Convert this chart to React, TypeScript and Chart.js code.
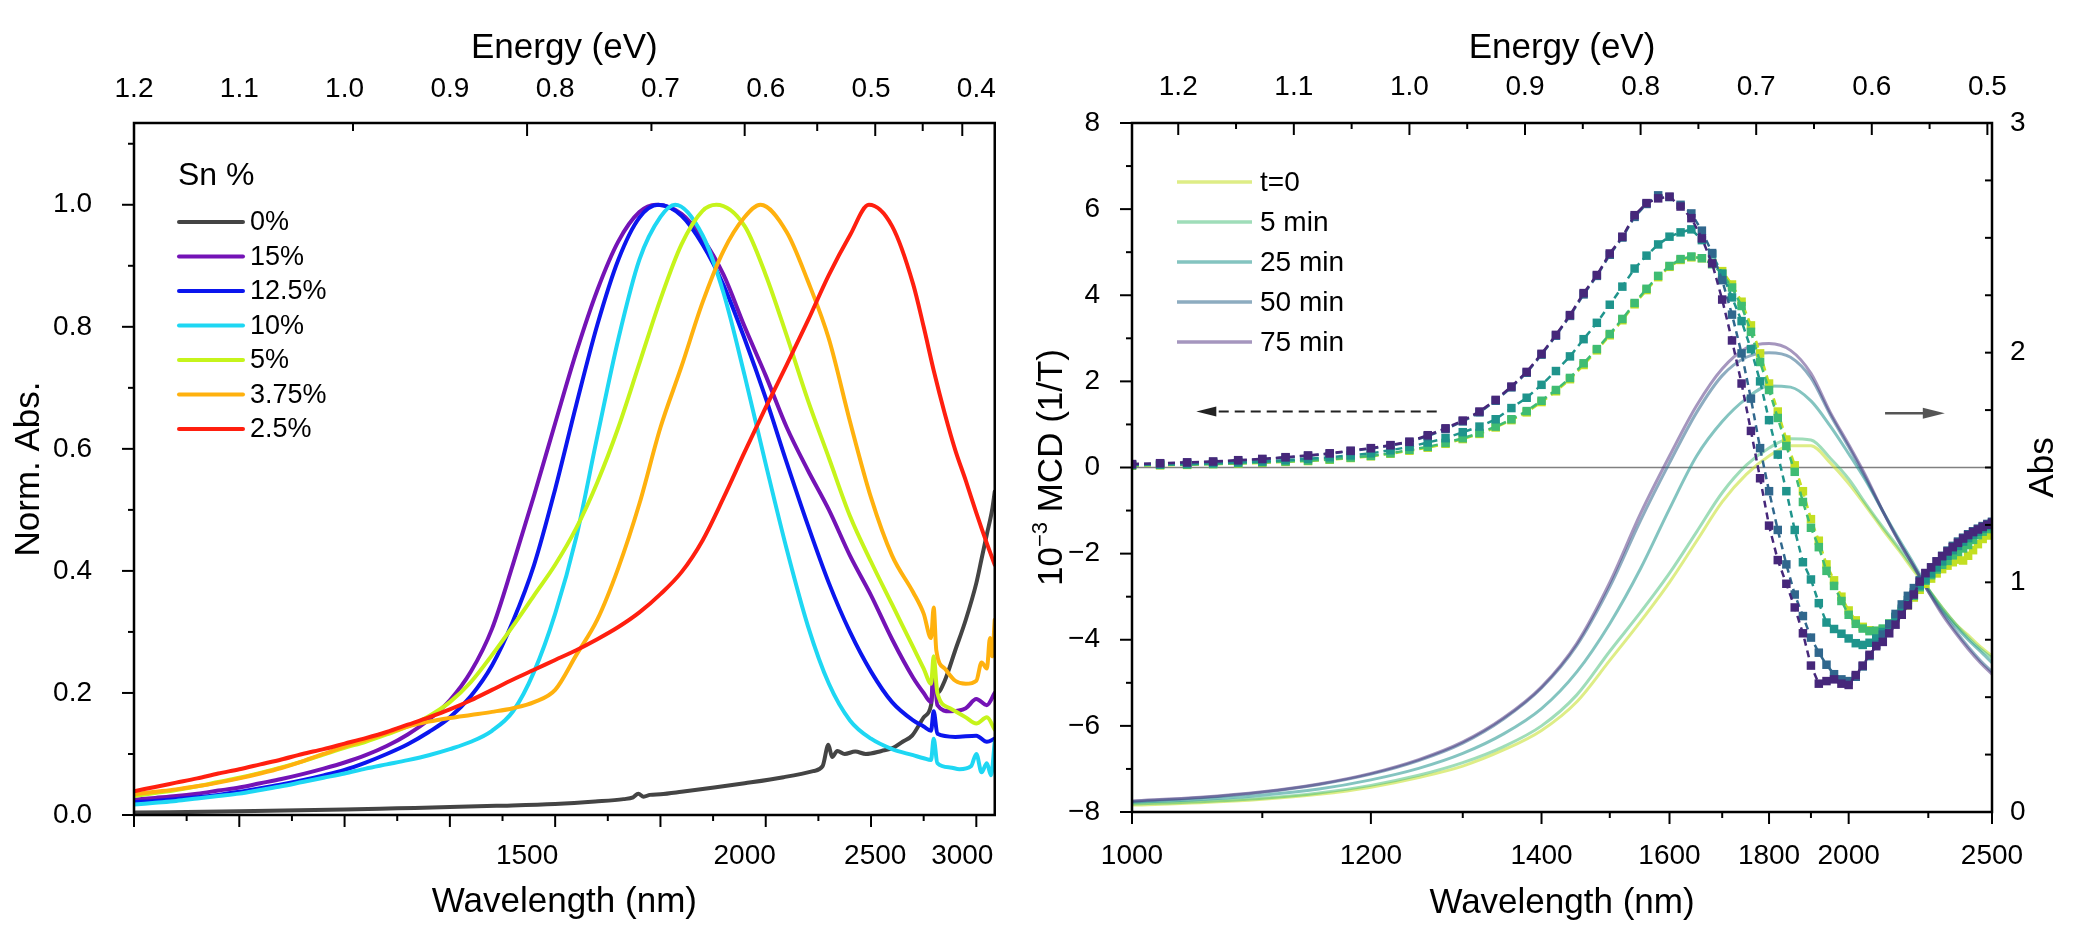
import React, { useEffect, useRef } from "react";
import { Chart, registerables } from "chart.js";

Chart.register(...registerables);

const FONT = "'Liberation Sans', Arial, Helvetica, sans-serif";
const HC = 1240; // eV·nm, converts wavelength to photon energy

// ======================= LEFT PANEL DATA (energy eV -> normalized absorbance) =======================
const SN_LABELS = ["0%", "15%", "12.5%", "10%", "5%", "3.75%", "2.5%"];
const SN_COLORS = ["#444444", "#7413B6", "#0B16EE", "#1ED7F3", "#C6F41B", "#FFB10E", "#FF1F0F"];

const E_SN0 = [1.2, 1.1, 1.0, 0.95, 0.9, 0.856, 0.8, 0.762, 0.735, 0.726, 0.721, 0.716, 0.71, 0.7, 0.68, 0.649, 0.62, 0.583, 0.555, 0.546, 0.5405, 0.537, 0.532, 0.525, 0.515, 0.505, 0.49, 0.479, 0.47, 0.461, 0.45, 0.443, 0.4405, 0.437, 0.43, 0.42, 0.41, 0.4, 0.395, 0.39, 0.385, 0.3825];
const V_SN0 = [0.004, 0.006, 0.009, 0.011, 0.013, 0.015, 0.018, 0.022, 0.026, 0.029, 0.035, 0.03, 0.033, 0.034, 0.038, 0.045, 0.052, 0.062, 0.072, 0.08, 0.115, 0.095, 0.105, 0.1, 0.104, 0.1, 0.105, 0.11, 0.12, 0.13, 0.16, 0.18, 0.22, 0.2, 0.22, 0.27, 0.32, 0.38, 0.42, 0.46, 0.5, 0.53];

const E_SN15 = [1.2, 1.18, 1.16, 1.14, 1.12, 1.1, 1.08, 1.06, 1.04, 1.02, 1.0, 0.98, 0.96, 0.94, 0.92, 0.9, 0.88, 0.86, 0.84, 0.82, 0.8, 0.78, 0.76, 0.74, 0.72, 0.704, 0.68, 0.66, 0.64, 0.62, 0.6, 0.58, 0.56, 0.54, 0.52, 0.5, 0.48, 0.46, 0.45, 0.443, 0.4405, 0.437, 0.425, 0.41, 0.4, 0.39, 0.3825];
const V_SN15 = [0.025, 0.028, 0.031, 0.035, 0.04, 0.045, 0.052, 0.059, 0.067, 0.076, 0.086, 0.098, 0.113, 0.132, 0.156, 0.188, 0.235, 0.305, 0.411, 0.524, 0.642, 0.758, 0.86, 0.94, 0.988, 1.0, 0.985, 0.945, 0.885, 0.8, 0.72, 0.635, 0.565, 0.5, 0.425, 0.36, 0.288, 0.225, 0.2, 0.185, 0.24, 0.18, 0.17, 0.175, 0.19, 0.18, 0.2];

const E_SN125 = [1.2, 1.18, 1.16, 1.14, 1.12, 1.1, 1.08, 1.06, 1.04, 1.02, 1.0, 0.98, 0.96, 0.94, 0.92, 0.9, 0.88, 0.86, 0.84, 0.82, 0.8, 0.78, 0.76, 0.74, 0.72, 0.702, 0.68, 0.66, 0.64, 0.62, 0.6, 0.58, 0.56, 0.54, 0.52, 0.5, 0.48, 0.46, 0.45, 0.443, 0.4405, 0.437, 0.42, 0.4, 0.39, 0.3825];
const V_SN125 = [0.021, 0.023, 0.026, 0.029, 0.033, 0.038, 0.044, 0.05, 0.057, 0.065, 0.074, 0.086, 0.1, 0.116, 0.136, 0.16, 0.195, 0.245, 0.318, 0.41, 0.534, 0.672, 0.803, 0.91, 0.979, 1.0, 0.982, 0.935, 0.868, 0.78, 0.683, 0.577, 0.475, 0.38, 0.3, 0.235, 0.185, 0.155, 0.145, 0.138, 0.17, 0.133, 0.128, 0.13, 0.12, 0.125];

const E_SN10 = [1.2, 1.18, 1.16, 1.14, 1.12, 1.1, 1.08, 1.06, 1.04, 1.02, 1.0, 0.98, 0.96, 0.94, 0.92, 0.9, 0.88, 0.86, 0.84, 0.82, 0.8, 0.78, 0.76, 0.74, 0.72, 0.7, 0.686, 0.66, 0.64, 0.62, 0.6, 0.58, 0.56, 0.54, 0.52, 0.5, 0.48, 0.46, 0.45, 0.443, 0.4405, 0.437, 0.425, 0.416, 0.405, 0.4, 0.395, 0.39, 0.386, 0.3825];
const V_SN10 = [0.017, 0.02, 0.023, 0.027, 0.031, 0.035, 0.041, 0.047, 0.054, 0.061, 0.068, 0.076, 0.083, 0.09, 0.098, 0.108, 0.12, 0.138, 0.17, 0.235, 0.33, 0.455, 0.62, 0.78, 0.91, 0.98, 1.0, 0.95, 0.855, 0.72, 0.575, 0.435, 0.31, 0.215, 0.155, 0.125, 0.108, 0.098, 0.093, 0.09, 0.125, 0.085, 0.078, 0.075, 0.08, 0.1, 0.07, 0.085, 0.065, 0.12];

const E_SN5 = [1.2, 1.18, 1.16, 1.14, 1.12, 1.1, 1.08, 1.06, 1.04, 1.02, 1.0, 0.98, 0.96, 0.94, 0.92, 0.9, 0.88, 0.86, 0.84, 0.82, 0.8, 0.78, 0.76, 0.74, 0.72, 0.7, 0.68, 0.66, 0.647, 0.62, 0.6, 0.58, 0.56, 0.54, 0.52, 0.5, 0.48, 0.46, 0.45, 0.443, 0.4405, 0.437, 0.425, 0.41, 0.4, 0.39, 0.3825];
const V_SN5 = [0.031, 0.036, 0.041, 0.047, 0.054, 0.061, 0.069, 0.078, 0.088, 0.099, 0.11, 0.12, 0.132, 0.145, 0.162, 0.185, 0.218, 0.262, 0.31, 0.36, 0.41, 0.47, 0.545, 0.635, 0.74, 0.845, 0.935, 0.99, 1.0, 0.965, 0.885, 0.785, 0.68, 0.585, 0.49, 0.415, 0.345, 0.275, 0.24, 0.215, 0.26, 0.2, 0.175, 0.16, 0.15, 0.16, 0.14];

const E_SN375 = [1.2, 1.18, 1.16, 1.14, 1.12, 1.1, 1.08, 1.06, 1.04, 1.02, 1.0, 0.98, 0.96, 0.94, 0.92, 0.9, 0.88, 0.86, 0.84, 0.82, 0.8, 0.78, 0.76, 0.74, 0.72, 0.7, 0.68, 0.66, 0.64, 0.62, 0.605, 0.58, 0.56, 0.54, 0.52, 0.5, 0.48, 0.46, 0.45, 0.443, 0.4405, 0.438, 0.43, 0.42, 0.41, 0.4, 0.395, 0.39, 0.387, 0.385, 0.3825];
const V_SN375 = [0.034, 0.038, 0.042, 0.047, 0.053, 0.06, 0.068, 0.077, 0.088, 0.1, 0.112, 0.123, 0.134, 0.145, 0.153, 0.159, 0.164, 0.169, 0.175, 0.185, 0.205, 0.262, 0.32, 0.405, 0.51, 0.635, 0.735, 0.84, 0.925, 0.98, 1.0, 0.955, 0.875, 0.78, 0.645, 0.52, 0.425, 0.365, 0.33, 0.29, 0.34, 0.27, 0.24, 0.22, 0.215, 0.22, 0.25, 0.24, 0.29, 0.26, 0.32];

const E_SN25 = [1.2, 1.18, 1.16, 1.14, 1.12, 1.1, 1.08, 1.06, 1.04, 1.02, 1.0, 0.98, 0.96, 0.94, 0.92, 0.9, 0.88, 0.86, 0.84, 0.82, 0.8, 0.78, 0.76, 0.74, 0.72, 0.7, 0.68, 0.66, 0.64, 0.62, 0.6, 0.58, 0.56, 0.54, 0.52, 0.502, 0.48, 0.46, 0.45, 0.44, 0.43, 0.42, 0.41, 0.4, 0.39, 0.3825];
const V_SN25 = [0.039, 0.046, 0.053, 0.06, 0.068, 0.075, 0.083, 0.091, 0.1, 0.108, 0.117, 0.126, 0.136, 0.148, 0.16, 0.173, 0.188, 0.205, 0.222, 0.238, 0.254, 0.27, 0.288, 0.308, 0.332, 0.362, 0.398, 0.45, 0.52, 0.595, 0.668, 0.738, 0.81, 0.885, 0.95, 1.0, 0.965, 0.87, 0.8, 0.725, 0.658, 0.598, 0.548, 0.495, 0.445, 0.41];

const LEFT_E_MIN = 0.3825;
const LEFT_E_MAX = 1.2;
const LEFT_Y_MAX = 1.134;
const LEFT_WL_LABELS = [1500, 2000, 2500, 3000];
const LEFT_EV_LABELS = [1.2, 1.1, 1.0, 0.9, 0.8, 0.7, 0.6, 0.5, 0.4];
const LEFT_Y_LABELS = [0, 0.2, 0.4, 0.6, 0.8, 1.0];
const LEFT_Y_MINOR = [0.1, 0.3, 0.5, 0.7, 0.9, 1.1];
const LEFT_BOTTOM_MAJOR_E = [1.2, 1.1, 1.0, 0.9, 0.8, 0.7, 0.6, 0.5, 0.4];
const LEFT_BOTTOM_MINOR_E = [1.15, 1.05, 0.95, 0.85, 0.75, 0.65, 0.55, 0.45];
const LEFT_TOP_MAJOR_NM = [1500, 2000, 2500, 3000];
const LEFT_TOP_MINOR_NM = [1250, 1750, 2250, 2750];

// ======================= RIGHT PANEL DATA =======================
const TIME_LABELS = ["t=0", "5 min", "25 min", "50 min", "75 min"];
const MCD_COLORS = ["#c3df22", "#3fbc73", "#1f948c", "#30678d", "#46277a"];
const ABS_COLORS = ["rgba(194,223,35,0.55)", "rgba(63,188,115,0.5)", "rgba(31,148,140,0.55)", "rgba(48,103,141,0.55)", "rgba(75,45,125,0.5)"];

const NM_MCD = [
  1000, 1020, 1040, 1060, 1080, 1100, 1120, 1140, 1160, 1180,
  1200, 1220, 1240, 1260, 1280, 1300, 1320, 1340, 1360, 1380,
  1400, 1420, 1440, 1460, 1480, 1500, 1520, 1540, 1560, 1580,
  1600, 1620, 1640, 1660, 1680, 1700, 1720, 1740, 1760, 1780,
  1800, 1820, 1840, 1860, 1880, 1900, 1920, 1940, 1960, 1980,
  2000, 2020, 2040, 2060, 2080, 2100, 2120, 2140, 2160, 2180,
  2200, 2220, 2240, 2260, 2280, 2300, 2320, 2340, 2360, 2380,
  2400, 2420, 2440, 2460, 2480, 2500,
];
const MCD_T0 = [
  0.04, 0.05, 0.06, 0.08, 0.09, 0.11, 0.13, 0.15, 0.18, 0.22,
  0.26, 0.32, 0.39, 0.46, 0.55, 0.66, 0.78, 0.93, 1.1, 1.28,
  1.52, 1.77, 2.05, 2.38, 2.72, 3.07, 3.42, 3.79, 4.12, 4.42,
  4.66, 4.82, 4.88, 4.86, 4.74, 4.56, 4.25, 3.85, 3.3, 2.65,
  1.95, 1.3, 0.65, 0.05, -0.55, -1.2, -1.7, -2.25, -2.62, -3.0,
  -3.32, -3.55, -3.7, -3.78, -3.8, -3.76, -3.65, -3.5, -3.36, -3.2,
  -3.02, -2.84, -2.7, -2.58, -2.46, -2.36, -2.28, -2.2, -2.14, -2.16,
  -2.05, -1.92, -1.78, -1.66, -1.58, -1.5,
];
const MCD_5 = [
  0.05, 0.06, 0.07, 0.08, 0.1, 0.12, 0.14, 0.16, 0.19, 0.23,
  0.27, 0.33, 0.41, 0.48, 0.57, 0.68, 0.8, 0.95, 1.12, 1.31,
  1.55, 1.8, 2.08, 2.42, 2.75, 3.1, 3.45, 3.82, 4.15, 4.45,
  4.68, 4.84, 4.9, 4.86, 4.72, 4.5, 4.18, 3.75, 3.15, 2.45,
  1.8, 1.15, 0.5, -0.1, -0.8, -1.4, -1.85, -2.4, -2.75, -3.1,
  -3.42, -3.63, -3.74, -3.8, -3.79, -3.74, -3.62, -3.47, -3.33, -3.18,
  -2.98, -2.78, -2.63, -2.5, -2.37, -2.26, -2.17, -2.04, -1.96, -1.88,
  -1.8, -1.68, -1.57, -1.49, -1.43, -1.38,
];
const MCD_25 = [
  0.06, 0.07, 0.08, 0.1, 0.12, 0.14, 0.17, 0.2, 0.24, 0.28,
  0.33, 0.4, 0.48, 0.58, 0.68, 0.82, 0.95, 1.12, 1.38, 1.62,
  1.92, 2.24, 2.58, 2.98, 3.36, 3.78, 4.2, 4.62, 4.92, 5.18,
  5.36, 5.46, 5.53, 5.28, 4.95, 4.5, 3.95, 3.4, 2.75, 2.0,
  1.1, 0.3, -0.55, -1.45, -2.2, -2.6, -3.15, -3.6, -3.75, -3.86,
  -3.97, -4.08, -4.12, -4.07, -3.97, -3.82, -3.66, -3.47, -3.28, -3.08,
  -2.9, -2.74, -2.6, -2.46, -2.32, -2.18, -2.05, -1.92, -1.82, -1.72,
  -1.64, -1.56, -1.49, -1.42, -1.36, -1.3,
];
const MCD_50 = [
  0.07, 0.09, 0.11, 0.13, 0.16, 0.19, 0.23, 0.27, 0.32, 0.38,
  0.44, 0.51, 0.59, 0.73, 0.89, 1.07, 1.28, 1.55, 1.86, 2.2,
  2.62, 3.06, 3.52, 4.02, 4.45, 4.94, 5.34, 5.82, 6.12, 6.32,
  6.28, 6.1, 5.9, 5.5, 4.98, 4.35, 3.55, 2.65, 1.6, 0.45,
  -0.55, -1.45, -2.25, -2.95, -3.45, -3.95, -4.3, -4.58, -4.8, -4.92,
  -4.96, -4.86, -4.62, -4.38, -4.12, -3.88, -3.64, -3.4, -3.18, -2.98,
  -2.8, -2.62, -2.46, -2.32, -2.18, -2.05, -1.93, -1.82, -1.72, -1.63,
  -1.55, -1.48, -1.42, -1.36, -1.31, -1.26,
];
const MCD_75 = [
  0.08, 0.1, 0.12, 0.14, 0.17, 0.2, 0.24, 0.28, 0.33, 0.39,
  0.45, 0.52, 0.6, 0.75, 0.91, 1.09, 1.3, 1.57, 1.88, 2.22,
  2.64, 3.08, 3.54, 4.05, 4.47, 4.97, 5.36, 5.86, 6.14, 6.25,
  6.29, 6.06, 5.79, 5.32, 4.74, 3.9, 2.95, 1.95, 0.85, -0.25,
  -1.35, -2.15, -2.7, -3.25, -3.85, -4.6, -5.02, -4.96, -4.92, -5.02,
  -5.05, -4.82, -4.6, -4.35, -4.15, -4.05, -3.85, -3.65, -3.42, -3.2,
  -2.95, -2.65, -2.45, -2.32, -2.18, -2.06, -1.95, -1.85, -1.75, -1.65,
  -1.57, -1.5, -1.44, -1.38, -1.33, -1.28,
];

const NM_ABS = [1000, 1050, 1100, 1150, 1200, 1250, 1300, 1350, 1400, 1450, 1500, 1550, 1600, 1650, 1700, 1750, 1800, 1850, 1900, 1950, 2000, 2050, 2100, 2150, 2200, 2250, 2300, 2350, 2400, 2450, 2500];
const ABS_T0 = [0.03, 0.04, 0.055, 0.077, 0.108, 0.15, 0.2, 0.27, 0.355, 0.48, 0.66, 0.83, 1.0, 1.18, 1.35, 1.47, 1.55, 1.595, 1.595, 1.52, 1.43, 1.33, 1.23, 1.14, 1.05, 0.97, 0.89, 0.82, 0.77, 0.72, 0.68];
const ABS_5 = [0.035, 0.045, 0.06, 0.083, 0.116, 0.16, 0.215, 0.285, 0.375, 0.51, 0.7, 0.87, 1.04, 1.22, 1.39, 1.51, 1.585, 1.625, 1.62, 1.54, 1.45, 1.34, 1.24, 1.15, 1.06, 0.97, 0.89, 0.82, 0.76, 0.71, 0.67];
const ABS_25 = [0.042, 0.054, 0.073, 0.1, 0.14, 0.19, 0.255, 0.34, 0.45, 0.61, 0.82, 1.06, 1.32, 1.55, 1.7, 1.8, 1.855, 1.85, 1.79, 1.68, 1.56, 1.44, 1.31, 1.19, 1.08, 0.97, 0.88, 0.81, 0.75, 0.7, 0.65];
const ABS_50 = [0.046, 0.062, 0.086, 0.12, 0.165, 0.224, 0.3, 0.405, 0.54, 0.725, 0.98, 1.27, 1.52, 1.74, 1.9, 1.98, 2.0, 1.98, 1.89, 1.73, 1.59, 1.45, 1.31, 1.18, 1.07, 0.96, 0.87, 0.79, 0.72, 0.66, 0.61];
const ABS_75 = [0.048, 0.064, 0.088, 0.122, 0.168, 0.228, 0.305, 0.41, 0.545, 0.735, 1.0, 1.3, 1.55, 1.77, 1.93, 2.02, 2.04, 2.01, 1.91, 1.74, 1.6, 1.46, 1.31, 1.18, 1.07, 0.96, 0.86, 0.78, 0.71, 0.65, 0.6];

const RIGHT_NM_MIN = 1000;
const RIGHT_NM_MAX = 2500;
const RIGHT_WL_LABELS = [1000, 1200, 1400, 1600, 1800, 2000, 2500];
const RIGHT_WL_MINOR = [1100, 1300, 1500, 1700, 1900, 2250];
const RIGHT_EV_LABELS = [1.2, 1.1, 1.0, 0.9, 0.8, 0.7, 0.6, 0.5];
const RIGHT_EV_MINOR = [1.15, 1.05, 0.95, 0.85, 0.75, 0.65, 0.55];
const MCD_LABELS = [-8, -6, -4, -2, 0, 2, 4, 6, 8];
const MCD_MINOR = [-7, -5, -3, -1, 1, 3, 5, 7];
const ABS_LABELS = [0, 1, 2, 3];
const ABS_TICKS = [0.25, 0.5, 0.75, 1, 1.25, 1.5, 1.75, 2, 2.25, 2.5, 2.75];

// arrows (in data units: wavelength nm, MCD value)
const ARROW_MCD = { fromNm: 1270, toNm: 1047, value: 1.3 };
const ARROW_ABS = { fromNm: 2107, toNm: 2310, value: 1.26 };

// ======================= helpers =======================
const TICK_FONT = { family: FONT, size: 28, lineHeight: 1.2 };
const TITLE_FONT = { family: FONT, size: 35, lineHeight: 1.2 };

function hTicks(ctx: any, scale: any, y0: number, vals: number[], len: number, dir: number) {
  vals.forEach((v) => {
    const x = scale.getPixelForValue(v);
    ctx.beginPath();
    ctx.moveTo(x, y0);
    ctx.lineTo(x, y0 + dir * len);
    ctx.stroke();
  });
}
function vTicks(ctx: any, scale: any, x0: number, vals: number[], len: number, dir: number) {
  vals.forEach((v) => {
    const y = scale.getPixelForValue(v);
    ctx.beginPath();
    ctx.moveTo(x0, y);
    ctx.lineTo(x0 + dir * len, y);
    ctx.stroke();
  });
}
function head(ctx: any, x: number, y: number, dir: number, len: number, half: number) {
  ctx.beginPath();
  ctx.moveTo(x, y);
  ctx.lineTo(x - dir * len, y - half);
  ctx.lineTo(x - dir * len, y + half);
  ctx.closePath();
  ctx.fill();
}
function rotatedText(ctx: any, text: string, x: number, y: number, size: number) {
  ctx.save();
  ctx.translate(x, y);
  ctx.rotate(-Math.PI / 2);
  ctx.font = `${size}px ${FONT}`;
  ctx.fillStyle = "#000";
  ctx.textAlign = "center";
  ctx.textBaseline = "middle";
  ctx.fillText(text, 0, 0);
  ctx.restore();
}

const leftDecor = {
  id: "leftDecor",
  afterDraw(chart: any) {
    const { ctx, chartArea: a, scales } = chart;
    ctx.save();
    ctx.strokeStyle = "#000";
    ctx.lineWidth = 2.5;
    ctx.strokeRect(a.left, a.top, a.right - a.left, a.bottom - a.top);
    ctx.lineWidth = 2;
    hTicks(ctx, scales.x, a.bottom, LEFT_BOTTOM_MAJOR_E, 12, 1);
    hTicks(ctx, scales.x, a.bottom, LEFT_BOTTOM_MINOR_E, 6, 1);
    hTicks(ctx, scales.x, a.top, LEFT_TOP_MAJOR_NM.map((nm) => HC / nm), 13, 1);
    hTicks(ctx, scales.x, a.top, LEFT_TOP_MINOR_NM.map((nm) => HC / nm), 8, 1);
    vTicks(ctx, scales.y, a.left, LEFT_Y_LABELS, 12, -1);
    vTicks(ctx, scales.y, a.left, LEFT_Y_MINOR, 6, -1);

    // legend
    ctx.fillStyle = "#000";
    ctx.textBaseline = "middle";
    ctx.textAlign = "left";
    ctx.font = `32px ${FONT}`;
    ctx.fillText("Sn %", 178, 176);
    ctx.font = `27px ${FONT}`;
    SN_LABELS.forEach((lab, i) => {
      const y = 222 + i * 34.5;
      ctx.strokeStyle = SN_COLORS[i];
      ctx.lineWidth = 4;
      ctx.lineCap = "round";
      ctx.beginPath();
      ctx.moveTo(179, y);
      ctx.lineTo(243, y);
      ctx.stroke();
      ctx.fillText(lab, 250, y + 1);
    });
    ctx.restore();
  },
};

const rightDecor = {
  id: "rightDecor",
  beforeDatasetsDraw(chart: any) {
    const { ctx, chartArea: a, scales } = chart;
    const y0 = scales.y.getPixelForValue(0);
    ctx.save();
    ctx.strokeStyle = "#808080";
    ctx.lineWidth = 1.5;
    ctx.beginPath();
    ctx.moveTo(a.left, y0);
    ctx.lineTo(a.right, y0);
    ctx.stroke();
    ctx.restore();
  },
  afterDraw(chart: any) {
    const { ctx, chartArea: a, scales } = chart;
    ctx.save();
    ctx.strokeStyle = "#000";
    ctx.lineWidth = 2.5;
    ctx.strokeRect(a.left, a.top, a.right - a.left, a.bottom - a.top);
    ctx.lineWidth = 2;
    hTicks(ctx, scales.x, a.bottom, RIGHT_WL_LABELS.map((nm) => HC / nm), 12, 1);
    hTicks(ctx, scales.x, a.bottom, RIGHT_WL_MINOR.map((nm) => HC / nm), 6, 1);
    hTicks(ctx, scales.x, a.top, RIGHT_EV_LABELS, 12, 1);
    hTicks(ctx, scales.x, a.top, RIGHT_EV_MINOR, 6, 1);
    vTicks(ctx, scales.y, a.left, MCD_LABELS, 12, -1);
    vTicks(ctx, scales.y, a.left, MCD_MINOR, 6, -1);
    vTicks(ctx, scales.y2, a.right, ABS_TICKS, 7, -1);

    // arrows
    const ym = scales.y.getPixelForValue(ARROW_MCD.value);
    const x1 = scales.x.getPixelForValue(HC / ARROW_MCD.fromNm);
    const x2 = scales.x.getPixelForValue(HC / ARROW_MCD.toNm);
    ctx.strokeStyle = "#222";
    ctx.fillStyle = "#222";
    ctx.lineWidth = 2;
    ctx.setLineDash([10, 6]);
    ctx.beginPath();
    ctx.moveTo(x1, ym);
    ctx.lineTo(x2 + 16, ym);
    ctx.stroke();
    ctx.setLineDash([]);
    head(ctx, x2, ym, -1, 20, 5);

    const ya = scales.y.getPixelForValue(ARROW_ABS.value);
    const xa1 = scales.x.getPixelForValue(HC / ARROW_ABS.fromNm);
    const xa2 = scales.x.getPixelForValue(HC / ARROW_ABS.toNm);
    ctx.strokeStyle = "#555";
    ctx.fillStyle = "#555";
    ctx.lineWidth = 2.5;
    ctx.beginPath();
    ctx.moveTo(xa1, ya);
    ctx.lineTo(xa2 - 18, ya);
    ctx.stroke();
    head(ctx, xa2, ya, 1, 22, 5.5);

    // legend
    ctx.textBaseline = "middle";
    ctx.textAlign = "left";
    ctx.font = `28px ${FONT}`;
    TIME_LABELS.forEach((lab, i) => {
      const y = 182 + i * 40;
      ctx.strokeStyle = ABS_COLORS[i];
      ctx.lineWidth = 3.5;
      ctx.beginPath();
      ctx.moveTo(167, y);
      ctx.lineTo(242, y);
      ctx.stroke();
      ctx.fillStyle = "#000";
      ctx.fillText(lab, 250, y + 1);
    });

    // left axis title with superscript
    const cy = (a.top + a.bottom) / 2;
    ctx.save();
    ctx.translate(42, cy);
    ctx.rotate(-Math.PI / 2);
    ctx.fillStyle = "#000";
    ctx.textBaseline = "middle";
    ctx.textAlign = "left";
    const big = `35px ${FONT}`;
    const small = `22px ${FONT}`;
    ctx.font = big;
    const w1 = ctx.measureText("10").width;
    const w3 = ctx.measureText(" MCD (1/T)").width;
    ctx.font = small;
    const w2 = ctx.measureText("\u22123").width;
    let x = -(w1 + w2 + w3) / 2;
    ctx.font = big;
    ctx.fillText("10", x, 0);
    x += w1;
    ctx.font = small;
    ctx.fillText("\u22123", x, -11);
    x += w2;
    ctx.font = big;
    ctx.fillText(" MCD (1/T)", x, 0);
    ctx.restore();

    rotatedText(ctx, "Abs", 1033, cy, 35);
    ctx.restore();
  },
};

function LeftPanel() {
  const ref = useRef<HTMLCanvasElement>(null);
  useEffect(() => {
    const series = [
      [E_SN0, V_SN0], [E_SN15, V_SN15], [E_SN125, V_SN125], [E_SN10, V_SN10],
      [E_SN5, V_SN5], [E_SN375, V_SN375], [E_SN25, V_SN25],
    ];
    const chart = new Chart(ref.current as HTMLCanvasElement, {
      type: "line",
      data: {
        datasets: series.map(([E, V], i) => ({
          label: SN_LABELS[i],
          data: E.map((e, j) => ({ x: e, y: V[j] })),
          borderColor: SN_COLORS[i],
          backgroundColor: SN_COLORS[i],
          borderWidth: 4,
          pointRadius: 0,
          cubicInterpolationMode: "monotone",
          borderJoinStyle: "round",
          borderCapStyle: "round",
          fill: false,
          order: series.length - i,
        })),
      },
      options: {
        responsive: false,
        animation: false,
        events: [],
        layout: { padding: { left: 0, right: 7, top: 0, bottom: 0 } },
        plugins: { legend: { display: false }, tooltip: { enabled: false } },
        scales: {
          x: {
            type: "linear", position: "bottom", min: LEFT_E_MIN, max: LEFT_E_MAX, reverse: true,
            grid: { display: false }, border: { display: false },
            afterBuildTicks: (s: any) => { s.ticks = LEFT_WL_LABELS.map((nm) => ({ value: HC / nm })); },
            afterFit: (s: any) => { s.height = 127; },
            ticks: { autoSkip: false, maxRotation: 0, minRotation: 0, padding: 16, color: "#000", font: TICK_FONT,
              callback: (_v: any, i: number) => String(LEFT_WL_LABELS[i]) },
            title: { display: true, text: "Wavelength (nm)", color: "#000", font: TITLE_FONT, padding: { top: 0, bottom: 19 } },
          },
          x2: {
            type: "linear", position: "top", min: LEFT_E_MIN, max: LEFT_E_MAX, reverse: true,
            grid: { display: false }, border: { display: false },
            afterBuildTicks: (s: any) => { s.ticks = LEFT_EV_LABELS.map((v) => ({ value: v })); },
            afterFit: (s: any) => { s.height = 123; },
            ticks: { autoSkip: false, maxRotation: 0, minRotation: 0, padding: 9, color: "#000", font: TICK_FONT,
              callback: (_v: any, i: number) => LEFT_EV_LABELS[i].toFixed(1) },
            title: { display: true, text: "Energy (eV)", color: "#000", font: TITLE_FONT, padding: { top: 27, bottom: 0 } },
          },
          y: {
            type: "linear", position: "left", min: 0, max: LEFT_Y_MAX,
            grid: { display: false }, border: { display: false },
            afterBuildTicks: (s: any) => { s.ticks = LEFT_Y_LABELS.map((v) => ({ value: v })); },
            afterFit: (s: any) => { s.width = 134; },
            ticks: { autoSkip: false, padding: 34, color: "#000", font: TICK_FONT,
              callback: (_v: any, i: number) => LEFT_Y_LABELS[i].toFixed(1) },
            title: { display: true, text: "Norm. Abs.", color: "#000", font: TITLE_FONT, padding: { top: 8, bottom: 0 } },
          },
        },
      } as any,
      plugins: [leftDecor],
    });
    return () => chart.destroy();
  }, []);
  return <canvas ref={ref} width={1010} height={942} style={{ position: "absolute", left: 0, top: 0, width: 1010, height: 942 }} />;
}

function RightPanel() {
  const ref = useRef<HTMLCanvasElement>(null);
  useEffect(() => {
    const mcd = [MCD_T0, MCD_5, MCD_25, MCD_50, MCD_75];
    const abs = [ABS_T0, ABS_5, ABS_25, ABS_50, ABS_75];
    const mcdSets = mcd.map((vals, i) => ({
      label: TIME_LABELS[i] + " MCD",
      data: NM_MCD.map((nm, j) => ({ x: HC / nm, y: vals[j] })),
      yAxisID: "y",
      borderColor: MCD_COLORS[i],
      backgroundColor: MCD_COLORS[i],
      borderWidth: 2.5,
      borderDash: [7, 5],
      pointStyle: "rect",
      pointRadius: 6,
      pointBorderWidth: 0,
      tension: 0,
      fill: false,
      order: 4 - i,
    }));
    const absSets = abs.map((vals, i) => ({
      label: TIME_LABELS[i] + " Abs",
      data: NM_ABS.map((nm, j) => ({ x: HC / nm, y: vals[j] })),
      yAxisID: "y2",
      borderColor: ABS_COLORS[i],
      backgroundColor: ABS_COLORS[i],
      borderWidth: 3,
      pointRadius: 0,
      cubicInterpolationMode: "monotone",
      fill: false,
      order: 10 + (4 - i),
    }));
    const chart = new Chart(ref.current as HTMLCanvasElement, {
      type: "line",
      data: { datasets: [...absSets, ...mcdSets] },
      options: {
        responsive: false,
        animation: false,
        events: [],
        layout: { padding: 0 },
        plugins: { legend: { display: false }, tooltip: { enabled: false } },
        scales: {
          x: {
            type: "linear", position: "bottom", min: HC / RIGHT_NM_MAX, max: HC / RIGHT_NM_MIN, reverse: true,
            grid: { display: false }, border: { display: false },
            afterBuildTicks: (s: any) => { s.ticks = RIGHT_WL_LABELS.map((nm) => ({ value: HC / nm })); },
            afterFit: (s: any) => { s.height = 130; },
            ticks: { autoSkip: false, maxRotation: 0, minRotation: 0, padding: 19, color: "#000", font: TICK_FONT,
              callback: (_v: any, i: number) => String(RIGHT_WL_LABELS[i]) },
            title: { display: true, text: "Wavelength (nm)", color: "#000", font: TITLE_FONT, padding: { top: 0, bottom: 18 } },
          },
          x2: {
            type: "linear", position: "top", min: HC / RIGHT_NM_MAX, max: HC / RIGHT_NM_MIN, reverse: true,
            grid: { display: false }, border: { display: false },
            afterBuildTicks: (s: any) => { s.ticks = RIGHT_EV_LABELS.map((v) => ({ value: v })); },
            afterFit: (s: any) => { s.height = 123; },
            ticks: { autoSkip: false, maxRotation: 0, minRotation: 0, padding: 11, color: "#000", font: TICK_FONT,
              callback: (_v: any, i: number) => RIGHT_EV_LABELS[i].toFixed(1) },
            title: { display: true, text: "Energy (eV)", color: "#000", font: TITLE_FONT, padding: { top: 27, bottom: 0 } },
          },
          y: {
            type: "linear", position: "left", min: -8, max: 8,
            grid: { display: false }, border: { display: false },
            afterBuildTicks: (s: any) => { s.ticks = MCD_LABELS.map((v) => ({ value: v })); },
            afterFit: (s: any) => { s.width = 122; },
            ticks: { autoSkip: false, padding: 24, color: "#000", font: TICK_FONT,
              callback: (_v: any, i: number) => (MCD_LABELS[i] < 0 ? "\u2212" + Math.abs(MCD_LABELS[i]) : String(MCD_LABELS[i])) },
          },
          y2: {
            type: "linear", position: "right", min: 0, max: 3,
            grid: { display: false }, border: { display: false },
            afterBuildTicks: (s: any) => { s.ticks = ABS_LABELS.map((v) => ({ value: v })); },
            afterFit: (s: any) => { s.width = 86; },
            ticks: { autoSkip: false, padding: 10, color: "#000", font: TICK_FONT,
              callback: (_v: any, i: number) => String(ABS_LABELS[i]) },
          },
        },
      } as any,
      plugins: [rightDecor],
    });
    return () => chart.destroy();
  }, []);
  return <canvas ref={ref} width={1068} height={942} style={{ position: "absolute", left: 1010, top: 0, width: 1068, height: 942 }} />;
}

export default function App() {
  return (
    <div style={{ position: "absolute", left: 0, top: 0, width: 2078, height: 942, background: "#fff", overflow: "hidden" }}>
      <LeftPanel />
      <RightPanel />
    </div>
  );
}
